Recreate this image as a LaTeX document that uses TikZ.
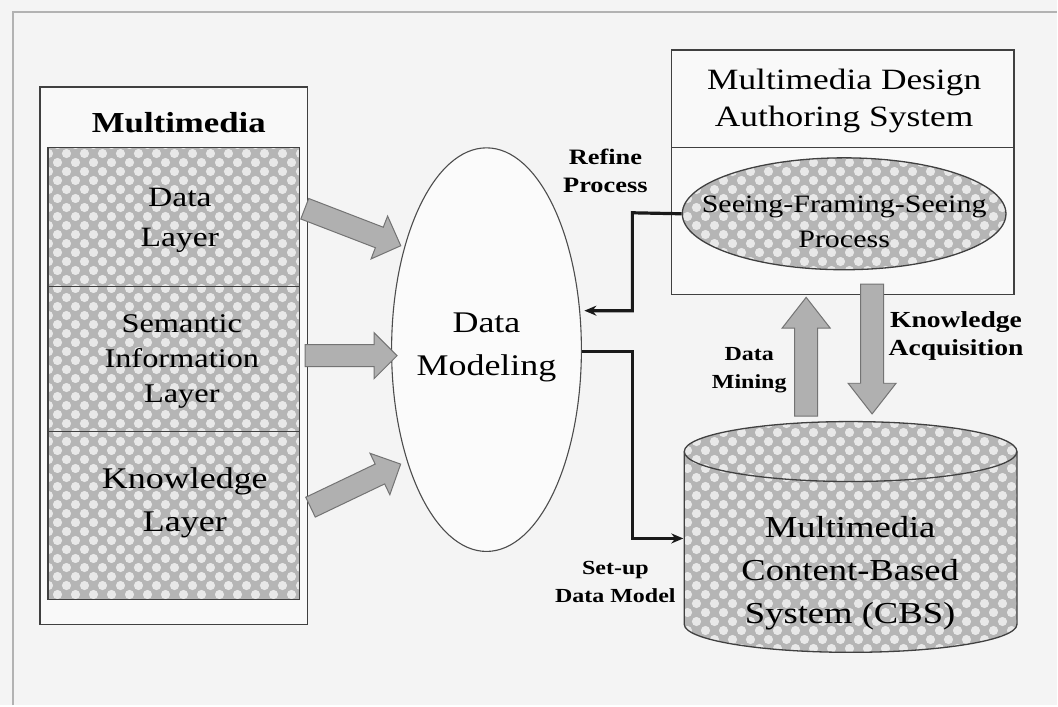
\documentclass[tikz,border=0pt]{standalone}
\usepackage{fontspec}
\setmainfont{Liberation Serif}[FakeStretch=1.2]
\usetikzlibrary{shapes.geometric,shapes.arrows,patterns.meta,arrows.meta,calc}

\tikzdeclarepattern{
  name=dotcheck,
  type=uncolored,
  bounding box={(0pt,0pt) and (18pt,18pt)},
  tile size={(18pt,18pt)},
  code={
    \fill (4.5pt,4.5pt) circle (4.6pt);
    \fill (13.5pt,13.5pt) circle (4.6pt);
  }
}

\tikzset{
  boxline/.style={draw=black!75, line width=1.3pt},
  hatch/.style={preaction={fill=gray!58}, pattern=dotcheck, pattern color=gray!18},
  maintext/.style={font=\fontsize{28}{40}\selectfont, align=center, inner sep=0pt},
  lbl/.style={font=\bfseries\fontsize{20}{28}\selectfont, align=center, inner sep=0pt},
  bigarrow/.style={single arrow, draw=black!55, fill=gray!62, line width=1pt,
    inner sep=0pt, sloped, allow upside down},
  leftarrow/.style={bigarrow, single arrow head extend=12pt,
    single arrow tip angle=90},
  vertarrow/.style={bigarrow, single arrow head extend=12.5pt,
    single arrow tip angle=76},
  conn/.style={draw=black!90, line width=3.2pt,
    -{Stealth[length=12pt, width=10pt]}},
  frameline/.style={draw=gray!60, line width=2.2pt},
}

\begin{document}
\begin{tikzpicture}[x=1pt, y=-1pt]
% background and frame
\path[fill=gray!9] (0,0) rectangle (1058,706);
\coordinate (fbl) at (13,706); \coordinate (ftl) at (13,12); \coordinate (ftr) at (1058,12);
\draw[frameline] (fbl) -- (ftl) -- (ftr);

% ---------- left: Multimedia ----------
\node[boxline, fill=white!95!gray, minimum width=268pt, minimum height=538pt, inner sep=0pt] (mm) at (174,356) {};
\node[font=\bfseries\fontsize{29}{36}\selectfont, inner sep=0pt] (mmt) at (179,123) {Multimedia};
\node[boxline, hatch, minimum width=252pt, minimum height=139pt, inner sep=0pt] (l1) at (174,217.5) {};
\node[boxline, hatch, minimum width=252pt, minimum height=145pt, inner sep=0pt] (l2) at (174,359.5) {};
\node[boxline, hatch, minimum width=252pt, minimum height=168pt, inner sep=0pt] (l3) at (174,516) {};
\node[maintext] (t1) at (180,221) {Data\\Layer};
\node[maintext, font=\fontsize{27}{35}\selectfont] (t2) at (182,362) {Semantic\\Information\\Layer};
\node[maintext, font=\fontsize{30}{43}\selectfont] (t3) at (185,503) {Knowledge\\Layer};

% ---------- Data Modeling ----------
\node[ellipse, draw=black!70, line width=1.1pt, fill=white!97!gray, minimum width=190pt, minimum height=404pt, inner sep=0pt] (dm) at (487,350) {};
\node[maintext, font=\fontsize{30}{43}\selectfont] (dmt) at (487,348) {Data\\Modeling};

% left thick arrows
\coordinate (a1s) at (300,207); \coordinate (a1e) at (396,244);
\coordinate (a2s) at (300,356); \coordinate (a2e) at (392,356);
\coordinate (a3s) at (306,510); \coordinate (a3e) at (396,467);
\path (a1s) -- node[leftarrow, minimum height=103pt] (ar1) {\rule{0pt}{21pt}} (a1e);
\path (a2s) -- node[leftarrow, minimum height=92pt] (ar2) {\rule{0pt}{21pt}} (a2e);
\path (a3s) -- node[leftarrow, minimum height=100pt] (ar3) {\rule{0pt}{21pt}} (a3e);

% ---------- right top: authoring system ----------
\node[boxline, fill=white!95!gray, minimum width=343pt, minimum height=245pt, inner sep=0pt] (mds) at (843.5,172.5) {};
\coordinate (divl) at (672,148); \coordinate (divr) at (1015,148);
\draw[boxline] (divl) -- (divr);
\node[maintext, font=\fontsize{29.5}{37}\selectfont] (mdt) at (845,101) {Multimedia Design\\Authoring System};
\node[ellipse, boxline, hatch, minimum width=324pt, minimum height=112pt, inner sep=0pt] (sfs) at (845,214) {};
\node[maintext, font=\fontsize{25}{35}\selectfont] (sfst) at (845,222) {Seeing-Framing-Seeing\\Process};

% ---------- cylinder ----------
\path[hatch] (685,452) -- (685,625) arc[start angle=180, end angle=360, x radius=166.5pt, y radius=28pt]
  -- (1018,452) arc[start angle=0, end angle=180, x radius=166.5pt, y radius=30pt] -- cycle;
\draw[boxline] (685,452) -- (685,625) arc[start angle=180, end angle=360, x radius=166.5pt, y radius=28pt]
  -- (1018,452) arc[start angle=0, end angle=180, x radius=166.5pt, y radius=30pt];
\draw[boxline] (685,452) arc[start angle=180, end angle=360, x radius=166.5pt, y radius=30pt];
\node[maintext, font=\fontsize{30.5}{43}\selectfont] (cbs) at (851,574) {Multimedia\\Content-Based\\System (CBS)};

% ---------- connectors ----------
\coordinate (rp1) at (633,213);
\coordinate (rp2) at (633,311);
\coordinate (rpe) at (585,311);
\draw[conn] (sfs.west) -- (rp1) -- (rp2) -- (rpe);
\coordinate (su0) at (583,352);
\coordinate (su1) at (633,352);
\coordinate (su2) at (633,539);
\coordinate (cylleft) at (684,539);
\draw[conn] (su0) -- (su1) -- (su2) -- (cylleft);

% vertical thick arrows
\coordinate (dmb) at (807,424); \coordinate (dmh) at (807,305);
\coordinate (kat) at (873,277); \coordinate (kah) at (873,407);
\path (dmb) -- node[vertarrow, minimum height=119pt] (arDM) {\rule{0pt}{22pt}} (dmh);
\path (kat) -- node[vertarrow, minimum height=130pt] (arKA) {\rule{0pt}{22pt}} (kah);

% ---------- labels ----------
\node[lbl, font=\bfseries\fontsize{22}{28}\selectfont] (lrp) at (606,171) {Refine\\Process};
\node[lbl, font=\bfseries\fontsize{23}{28}\selectfont] (lka) at (957,336) {Knowledge\\Acquisition};
\node[lbl] (ldm) at (750,371) {Data\\Mining};
\node[lbl] (lsu) at (616,583) {Set-up\\Data Model};
\end{tikzpicture}
\end{document}
